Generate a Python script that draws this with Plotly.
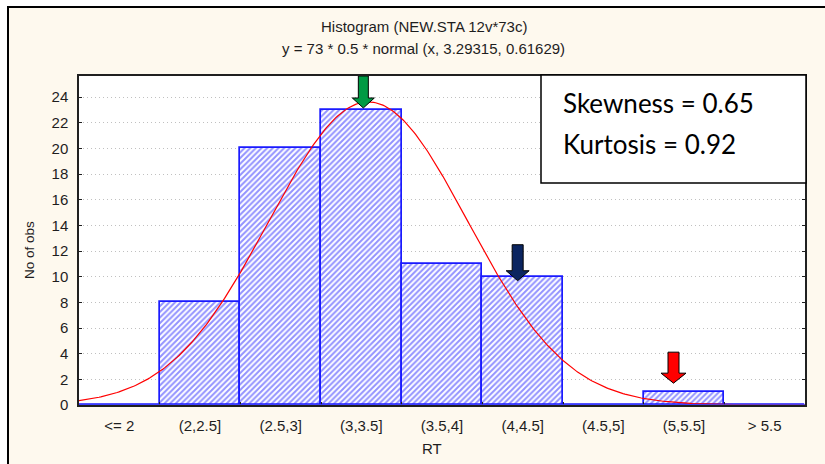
import numpy as np
import plotly.graph_objects as go

# Histogram of RT (73 observations), bin width 0.5
bin_labels = ["&lt;= 2", "(2,2.5]", "(2.5,3]", "(3,3.5]", "(3.5,4]",
              "(4,4.5]", "(4.5,5]", "(5,5.5]", "&gt; 5.5"]
counts = [0, 8, 20, 23, 11, 10, 0, 1, 0]

# Fitted normal curve parameters: y = n * width * normal(x, mean, sd)
n_obs = 73
bin_width = 0.5
fit_mean = 3.29315
fit_sd = 0.61629
first_center = 1.75   # centre of the "<= 2" class in RT units

skewness = 0.65
kurtosis = 0.92

W, H = 825, 464
L, R, T, B = 79, 805, 76, 405   # plot-area edges in pixels
Y_MAX = 25.65

def px(xp):
    return (xp - L) / (R - L)

def py(yp):
    return (B - yp) / (B - T)

idx = np.arange(len(counts))

fig = go.Figure()

fig.add_trace(go.Bar(
    x=idx, y=counts, width=1.0,
    marker=dict(
        color="white",
        line=dict(color="#1a1aff", width=1.7),
        pattern=dict(shape="/", fgcolor="#2626ff", bgcolor="white",
                     size=4, solidity=0.5),
    ),
    showlegend=False, hoverinfo="skip",
))

# normal curve evaluated across the full axis width
c = np.linspace(-0.5, len(counts) - 0.5, 400)
rt = first_center + bin_width * c
curve = n_obs * bin_width * np.exp(-0.5 * ((rt - fit_mean) / fit_sd) ** 2) / (fit_sd * np.sqrt(2 * np.pi))
fig.add_trace(go.Scatter(x=c, y=curve, mode="lines",
                         line=dict(color="#ff0000", width=1.2),
                         showlegend=False, hoverinfo="skip"))

shapes = []
# white page outside the frame, cream inside
shapes.append(dict(type="rect", xref="paper", yref="paper",
                   x0=px(-5), x1=px(8), y0=py(480), y1=py(-5),
                   fillcolor="white", line=dict(width=0), layer="below"))
shapes.append(dict(type="rect", xref="paper", yref="paper",
                   x0=px(-5), x1=px(830), y0=py(7), y1=py(-5),
                   fillcolor="white", line=dict(width=0), layer="below"))
shapes.append(dict(type="line", xref="paper", yref="paper",
                   x0=px(8), x1=px(8), y0=py(480), y1=py(6),
                   line=dict(color="black", width=2)))
shapes.append(dict(type="line", xref="paper", yref="paper",
                   x0=px(7), x1=px(830), y0=py(7), y1=py(7),
                   line=dict(color="black", width=2)))

# empty classes leave a blue outline along the baseline
shapes.append(dict(type="line", xref="paper", yref="y",
                   x0=0, x1=1, y0=0, y1=0,
                   line=dict(color="#4a4aff", width=1.5)))

# block arrows pointing at selected classes
def block_arrow(i, val, dx, gap, length, shaft, head, head_len, color):
    tip = -gap
    top = tip + length
    neck = tip + head_len
    s, h = shaft / 2, head / 2
    path = (f"M {dx} {tip} L {dx - h} {neck} L {dx - s} {neck} L {dx - s} {top} "
            f"L {dx + s} {top} L {dx + s} {neck} L {dx + h} {neck} Z")
    return dict(type="path", xref="x", yref="y",
                xsizemode="pixel", ysizemode="pixel",
                xanchor=i, yanchor=val, path=path,
                fillcolor=color, line=dict(color="black", width=1))

shapes.append(block_arrow(3, counts[3], 2, -2, 32, 10, 22, 10, "#009a44"))
shapes.append(block_arrow(5, counts[5], -5, 4, 36, 11, 23, 10, "#0b2560"))
shapes.append(block_arrow(7, counts[7], -10.5, -9, 31, 11, 25, 10, "#ff0000"))

# statistics box
shapes.append(dict(type="rect", xref="paper", yref="paper",
                   x0=px(541), x1=px(806), y0=py(183), y1=py(75),
                   fillcolor="white", line=dict(color="black", width=1.5)))

txt = "#1e1e1e"
ann = [
    dict(text="Histogram (NEW.STA 12v*73c)", x=px(424), y=py(27)),
    dict(text="y = 73 * 0.5 * normal (x, 3.29315, 0.61629)", x=px(423), y=py(49)),
    dict(text="RT", x=px(432), y=py(448)),
]
annotations = []
for a in ann:
    annotations.append(dict(xref="paper", yref="paper", showarrow=False,
                            xanchor="center", yanchor="middle",
                            font=dict(family="Liberation Sans", size=15, color=txt), **a))
annotations.append(dict(xref="paper", yref="paper", showarrow=False,
                        text="No of obs", x=px(29), y=py(250), textangle=-90,
                        xanchor="center", yanchor="middle",
                        font=dict(family="Liberation Sans", size=13.5, color=txt)))
annotations.append(dict(xref="paper", yref="paper", showarrow=False,
                        text=f"Skewness = {skewness:.2f}", x=px(561), y=py(103),
                        xanchor="left", yanchor="middle",
                        font=dict(family="Lato", size=26, color="black")))
annotations.append(dict(xref="paper", yref="paper", showarrow=False,
                        text=f"Kurtosis = {kurtosis:.2f}", x=px(561), y=py(144),
                        xanchor="left", yanchor="middle",
                        font=dict(family="Lato", size=26, color="black")))

fig.update_layout(
    width=W, height=H,
    margin=dict(l=L, r=W - R, t=T, b=H - B),
    paper_bgcolor="#fef9ee",
    plot_bgcolor="white",
    bargap=0,
    shapes=shapes,
    annotations=annotations,
    font=dict(family="Liberation Sans", size=15, color=txt),
    xaxis=dict(
        range=[-0.5, len(counts) - 0.5],
        tickmode="array", tickvals=list(idx), ticktext=bin_labels,
        ticks="", showgrid=False, zeroline=False,
        showline=True, linecolor="#202020", linewidth=1.5, mirror=True,
        ticklabelstandoff=6,
        minor=dict(tickmode="array", tickvals=list(idx[:-1] + 0.5),
                   ticks="inside", ticklen=3, tickcolor="#202020", showgrid=False),
    ),
    yaxis=dict(
        range=[0, Y_MAX],
        tickmode="array", tickvals=list(range(0, 25, 2)),
        ticks="inside", ticklen=3, tickcolor="#202020",
        showgrid=True, gridcolor="#c0c0c0", griddash="1px,3px", gridwidth=1,
        zeroline=False,
        showline=True, linecolor="#202020", linewidth=1.5, mirror="ticks",
        ticklabelstandoff=6,
    ),
)

fig.write_html("out.html")
